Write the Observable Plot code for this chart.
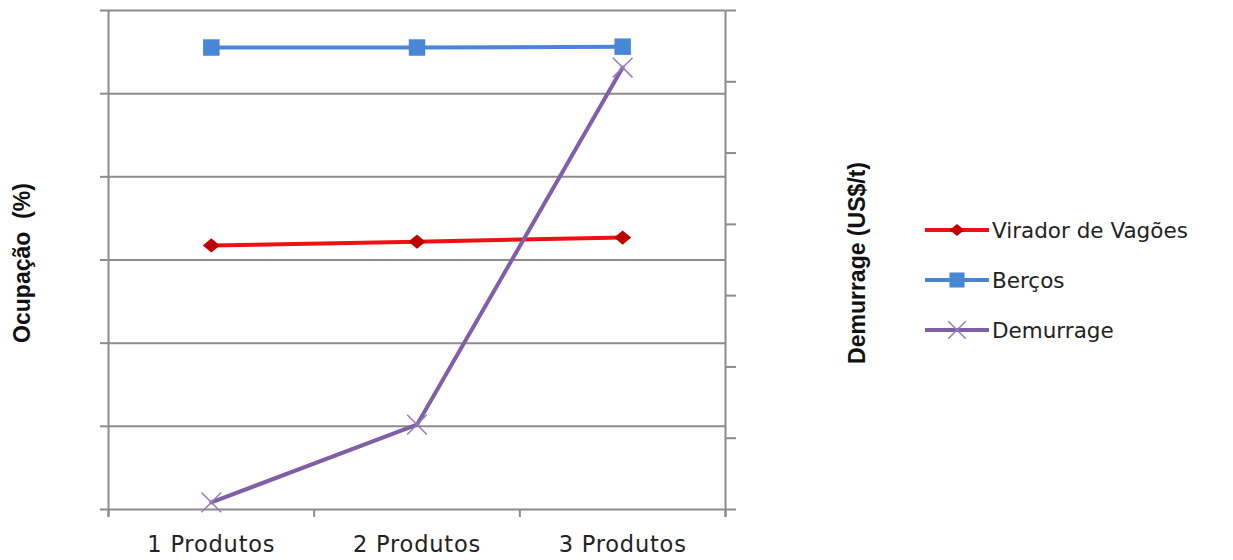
<!DOCTYPE html>
<html><head><meta charset="utf-8">
<script src="https://cdn.jsdelivr.net/npm/d3@7"></script>
<script src="https://cdn.jsdelivr.net/npm/@observablehq/plot@0.6"></script>
<style>
body{margin:0;background:#fff;}
#wrap{position:relative;width:1233px;height:560px;}
#legend{position:absolute;left:925px;top:205px;font-family:"DejaVu Sans",sans-serif;font-size:21.5px;color:#222;}
.item{display:flex;align-items:center;height:50px;}
.item span{margin-left:3px;}
</style></head>
<body><div id="wrap"><div id="legend"></div></div>
<script>
const categories = ["1 Produtos", "2 Produtos", "3 Produtos"];
const virador = [63.5, 64.4, 65.4];      // Ocupação (%) - left axis
const bercos = [111.1, 111.1, 111.3];     // Ocupação (%) - left axis
const demurrage = [0.1, 1.19, 6.2];       // Demurrage (US$/t) - right axis
const leftTicks = [0, 20, 40, 60, 80, 100, 120];
const rightTicks = [0, 1, 2, 3, 4, 5, 6, 7];
const leftMax = 120, rightMax = 7;
const k = leftMax / rightMax;

// wide diamond symbol (Excel-style)
const wideDiamond = {draw(ctx, size) { const s = Math.sqrt(size / 2.4); const w = s * 1.2, h = s; ctx.moveTo(0, -h); ctx.lineTo(w, 0); ctx.lineTo(0, h); ctx.lineTo(-w, 0); ctx.closePath(); }};

const series = [
  {name: "Virador de Vagões", values: virador, color: "#ee1111", mark: "#c00000", symbol: wideDiamond, r: 6.2, lr: 5.3, scale: 1},
  {name: "Berços", values: bercos, color: "#4a86d6", mark: "#4a86d6", symbol: d3.symbolSquare, r: 9.3, lr: 8.5, scale: 1},
  {name: "Demurrage", values: demurrage, color: "#7f5fa6", mark: "#957bbb", symbol: d3.symbolTimes, r: 9, lr: 8, scale: k, stroked: true}
];
const rows = series.flatMap(s => s.values.map((v, i) => ({name: s.name, i: i + 0.5, y: v * s.scale})));

const grid = "#8c8c8c";
const labelFont = "'Liberation Sans Narrow', 'Liberation Sans', sans-serif";
const marks = [
  Plot.gridY(leftTicks, {stroke: grid, strokeOpacity: 1, strokeWidth: 2}),
  Plot.axisY(leftTicks, {anchor: "left", tickSize: 8, tickFormat: () => "", stroke: grid, strokeWidth: 2, label: null}),
  Plot.axisY(rightTicks.map(t => t * k), {anchor: "right", tickSize: 10, tickFormat: () => "", stroke: grid, strokeWidth: 2, label: null}),
  Plot.ruleX([0, 3], {stroke: grid, strokeWidth: 2, insetBottom: -8}),
  Plot.axisX([0, 1, 2, 3], {tickSize: 8, tickFormat: () => "", stroke: grid, strokeWidth: 2, label: null}),
  Plot.axisX([0.5, 1.5, 2.5], {tickSize: 0, tickPadding: 27, tickFormat: d => categories[Math.floor(d)], fontSize: 22.5, fill: "#222", label: null}),
  Plot.text(["Ocupação  (%)"], {frameAnchor: "left", dx: -86, dy: 3, rotate: -90, textAnchor: "middle", fontSize: 23, fontWeight: "bold", fill: "#111", fontFamily: labelFont}),
  Plot.text(["Demurrage (US$/t)"], {frameAnchor: "right", dx: 132, dy: 3, rotate: -90, textAnchor: "middle", fontSize: 23, fontWeight: "bold", fill: "#111", fontFamily: labelFont})
];
for (const s of series) {
  const d = rows.filter(r => r.name === s.name);
  marks.push(Plot.line(d, {x: "i", y: "y", stroke: s.color, strokeWidth: 4}));
  if (s.stroked) marks.push(Plot.dot(d, {x: "i", y: "y", symbol: s.symbol, r: s.r, stroke: s.mark, strokeWidth: 1.5}));
  else marks.push(Plot.dot(d, {x: "i", y: "y", symbol: s.symbol, r: s.r, fill: s.mark, stroke: "none"}));
}

const chart = Plot.plot({
  width: 1233, height: 560,
  marginLeft: 108, marginRight: 508, marginTop: 10, marginBottom: 51,
  style: {fontFamily: "'DejaVu Sans', sans-serif", background: "#fff"},
  x: {type: "linear", domain: [0, 3], axis: null},
  y: {domain: [0, leftMax], axis: null},
  marks
});
d3.select(chart).selectAll("text").filter(function() { return categories.includes(this.textContent); }).style("letter-spacing", "0.8px");
document.getElementById("wrap").prepend(chart);

const legend = d3.select("#legend");
for (const s of series) {
  const it = legend.append("div").attr("class", "item");
  const svg = it.append("svg").attr("width", 64).attr("height", 20);
  svg.append("line").attr("x1", 0).attr("x2", 64).attr("y1", 10).attr("y2", 10).attr("stroke", s.color).attr("stroke-width", 4);
  const path = svg.append("path").attr("transform", "translate(32,10)").attr("d", d3.symbol(s.symbol, Math.PI * s.lr * s.lr)());
  if (s.stroked) path.attr("fill", "none").attr("stroke", s.mark).attr("stroke-width", 1.5);
  else path.attr("fill", s.mark);
  it.append("span").text(s.name);
}
</script></body></html>
